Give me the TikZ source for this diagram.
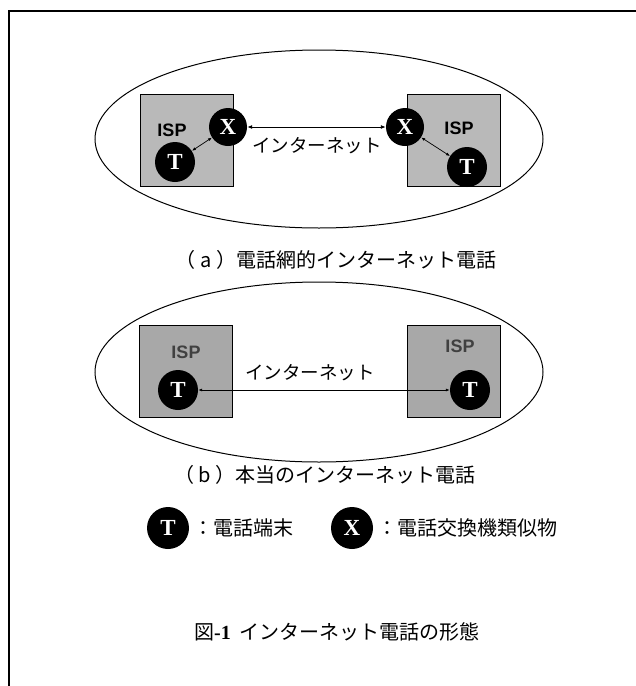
\documentclass[tikz,border=0pt]{standalone}
\usepackage{fontspec}
\setmainfont{Liberation Serif}
\newfontfamily\jp{Noto Sans CJK JP}
\newfontfamily\ispfont{Liberation Sans}
\usetikzlibrary{arrows.meta,shapes.geometric}
\begin{document}
\begin{tikzpicture}[x=1pt,y=-1pt,
  term/.style={circle,fill=black,text=white,minimum size=40pt,inner sep=0pt,
    font=\fontsize{23}{23}\selectfont\bfseries},
  xch/.style={term,minimum size=38pt},
  ispbox/.style={draw=black,line width=0.9pt,fill=gray!55,minimum width=93pt,minimum height=92pt,inner sep=0pt},
  ispboxb/.style={ispbox,fill=gray!68},
  isplabel/.style={font=\ispfont\bfseries\fontsize{18}{18}\selectfont},
  cloud/.style={draw=black,line width=1pt,ellipse,minimum width=448pt,minimum height=178pt,inner sep=0pt},
  jlabel/.style={font=\jp\fontsize{18.5}{18.5}\selectfont,inner sep=0pt},
  caption/.style={font=\jp\fontsize{20}{20}\selectfont,inner sep=0pt},
  link/.style={line width=0.9pt,{Latex[length=5pt,width=4pt]}-{Latex[length=5pt,width=4pt]}},
  slink/.style={line width=0.7pt,{Latex[length=4pt,width=3pt]}-{Latex[length=4pt,width=3pt]}}]
\useasboundingbox (0,0) rectangle (636,686);
\draw[line width=1.3pt] (9,686) -- (9,11) -- (636,11);

% (a)
\node[cloud] (ea) at (319,139) {};
\node[ispbox] (sa1) at (186.5,140.5) {};
\node[ispbox] (sa2) at (454,140) {};
\node[isplabel] (ia1) at (172,130) {ISP};
\node[isplabel] (ia2) at (459,128) {ISP};
\node[term] (ta1) at (175,162) {T};
\node[term] (ta2) at (467,167) {T};
\node[xch] (xa1) at (228,127) {X};
\node[xch] (xa2) at (405,127) {X};
\draw[link] (xa1) -- (xa2);
\draw[slink] (xa1) -- (ta1);
\draw[slink] (xa2) -- (ta2);
\node[jlabel] (na) at (317,146) {インターネット};
\node[caption] (ca) at (336,260) {（ a ）電話網的インターネット電話};

% (b)
\node[cloud,minimum height=180pt] (eb) at (319,372) {};
\node[ispboxb] (sb1) at (186,371.5) {};
\node[ispboxb] (sb2) at (454,371.5) {};
\node[isplabel,text=black!75] (ib1) at (186,352) {ISP};
\node[isplabel,text=black!75] (ib2) at (460,346) {ISP};
\node[term] (tb1) at (178,390) {T};
\node[term] (tb2) at (470,390) {T};
\draw[slink] (tb1) -- (tb2);
\node[jlabel] (nb) at (310,373) {インターネット};
\node[caption] (cb) at (325,475) {（ b ）本当のインターネット電話};

% legend
\node[term,minimum size=42pt] (lt) at (168,528) {T};
\node[caption,anchor=west] (ltx) at (193,528) {：電話端末};
\node[term,minimum size=42pt] (lx) at (352,528) {X};
\node[caption,anchor=west] (lxx) at (377,528) {：電話交換機類似物};

% title
\node[jlabel,font=\jp\fontsize{20}{20}\selectfont] (title) at (337,632) {図{\rmfamily\bfseries -1}\ \ インターネット電話の形態};
\end{tikzpicture}
\end{document}
